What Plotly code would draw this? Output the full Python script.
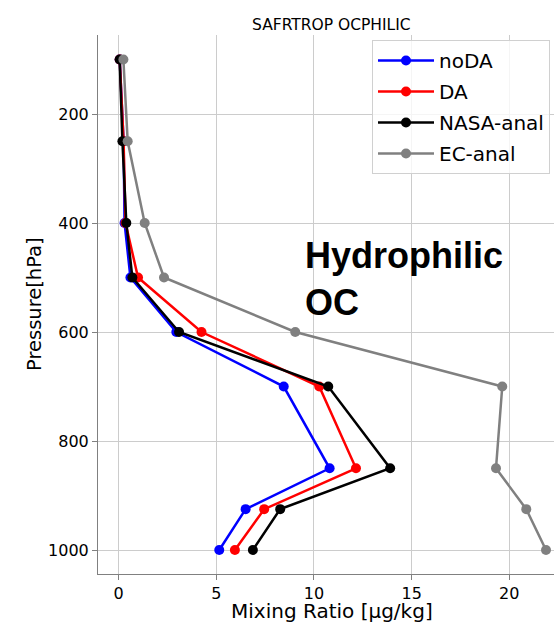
import plotly.graph_objects as go

pressure = [100, 250, 400, 500, 600, 700, 850, 925, 1000]
noDA = [0.05, 0.25, 0.30, 0.60, 2.95, 8.45, 10.8, 6.5, 5.15]
DA = [0.05, 0.25, 0.35, 0.99, 4.24, 10.27, 12.15, 7.45, 5.95]
NASA_anal = [0.05, 0.19, 0.39, 0.70, 3.09, 10.73, 13.9, 8.27, 6.87]
EC_anal = [0.24, 0.46, 1.33, 2.32, 9.04, 19.64, 19.32, 20.87, 21.88]

series = [("noDA", noDA, "#0000ff"), ("DA", DA, "#ff0000"),
          ("NASA-anal", NASA_anal, "#000000"), ("EC-anal", EC_anal, "#808080")]
xticks = [0, 5, 10, 15, 20]
yticks = [200, 400, 600, 800, 1000]

fig = go.Figure()
for name, vals, col in series:
    fig.add_trace(go.Scatter(x=vals, y=pressure, name=name, mode="lines+markers",
                             legendgroup=name,
                             line=dict(color=col, width=2.5),
                             marker=dict(color=col, size=10)))

W, H = 554, 623
L, R, T, B = 98, 554, 35, 574
pw, ph = R - L, B - T

def px(x):
    return (x - L) / pw

def py(y):
    return 1 - (y - T) / ph

axis_common = dict(showgrid=True, gridcolor="#cccccc", gridwidth=1, zeroline=False,
                   showline=True, linecolor="#808080", linewidth=1, mirror=False,
                   ticks="outside", ticklen=5, tickcolor="#808080",
                   tickfont=dict(family="DejaVu Sans", size=16, color="#000000"))

fig.update_layout(
    width=W, height=H,
    margin=dict(l=L, r=W - R, t=T, b=H - B, pad=0),
    paper_bgcolor="white", plot_bgcolor="white",
    showlegend=True,
    legend=dict(x=px(372), y=py(40), xanchor="left", yanchor="top",
                itemwidth=56, tracegroupgap=2, traceorder="grouped",
                entrywidth=200, entrywidthmode="pixels",
                font=dict(family="DejaVu Sans", size=20, color="#000000"),
                bgcolor="rgba(255,255,255,0.8)", bordercolor="#d0d0d0", borderwidth=1),
    xaxis=dict(range=[-1.06, 22.29], tickvals=xticks, **axis_common),
    yaxis=dict(range=[1044, 55], tickvals=yticks, **axis_common),
    annotations=[
        dict(text="SAFRTROP OCPHILIC", xref="paper", yref="paper", x=px(331.7), y=py(25),
             xanchor="center", yanchor="middle", showarrow=False,
             font=dict(family="DejaVu Sans", size=15.5, color="#000000")),
        dict(text="Mixing Ratio [μg/kg]", xref="paper", yref="paper", x=px(332), y=py(611),
             xanchor="center", yanchor="middle", showarrow=False,
             font=dict(family="DejaVu Sans", size=20, color="#000000")),
        dict(text="Pressure[hPa]", xref="paper", yref="paper", x=px(35), y=py(304),
             xanchor="center", yanchor="middle", showarrow=False, textangle=-90,
             font=dict(family="DejaVu Sans", size=19.5, color="#000000")),
        dict(text="<b>Hydrophilic</b><br><b>OC</b>", xref="paper", yref="paper",
             x=px(303), y=py(233), xanchor="left", yanchor="top", align="left",
             showarrow=False,
             font=dict(family="Liberation Sans", size=36, color="#000000")),
    ],
)

fig.write_html("out.html", config={"displayModeBar": False},
               post_script="document.body.style.margin='0';document.body.style.overflow='hidden';")
